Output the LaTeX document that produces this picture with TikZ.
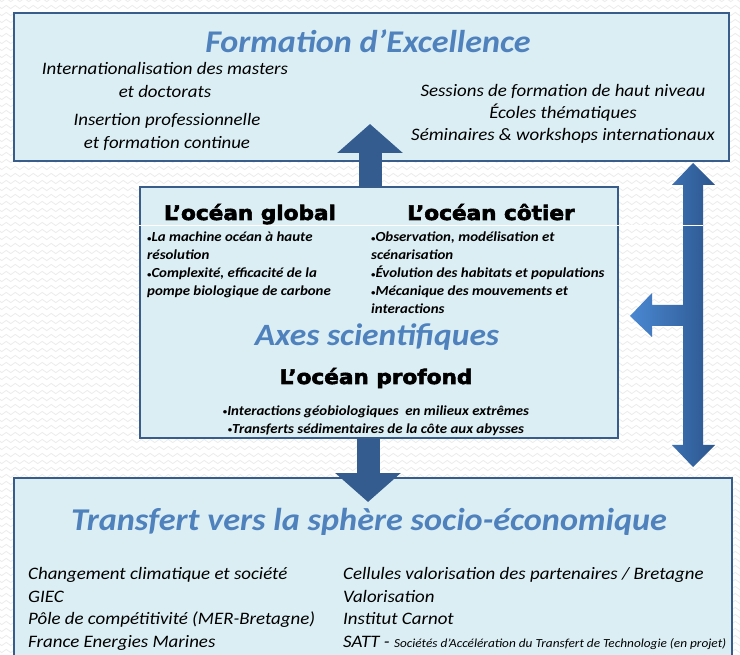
\documentclass[tikz,border=0pt]{standalone}
\usepackage{fontspec}
\setmainfont{Carlito}[FakeStretch=1.08]
\newfontfamily\blackfont{DejaVu Sans}[FakeStretch=1.08,FakeBold=3]
\usetikzlibrary{arrows.meta,positioning,calc,decorations.pathmorphing}

\definecolor{panelfill}{RGB}{219,238,244}
\definecolor{paneldraw}{RGB}{56,93,138}
\definecolor{titleblue}{RGB}{79,129,189}
\definecolor{navyarrow}{RGB}{52,92,142}
\definecolor{arrowlight}{RGB}{74,136,210}
\definecolor{arrowdark}{RGB}{44,86,142}
\definecolor{zigzaggray}{RGB}{236,236,236}

\newcommand\puce{\raisebox{0.8pt}{\fontsize{8}{8}\selectfont•}}

\tikzset{
  panel/.style={draw=paneldraw, fill=panelfill, line width=2pt, inner sep=0pt},
  bigtitle/.style={font=\fontsize{31.6}{36}\selectfont\bfseries\itshape, text=titleblue, inner sep=0pt},
  oceantitle/.style={font=\blackfont\bfseries\fontsize{20}{24}\selectfont, inner sep=0pt, anchor=base},
  itemtext/.style={font=\fontsize{17.5}{23.5}\selectfont\itshape, align=center, inner sep=0pt},
  bullettext/.style={font=\fontsize{13.8}{18}\selectfont\bfseries\itshape, align=left, anchor=north west, inner sep=0pt},
  listtext/.style={font=\fontsize{17.5}{22.7}\selectfont\itshape, align=left, anchor=north west, inner sep=0pt},
  bigarrow/.style={draw=navyarrow, line width=23pt, -{Triangle[width=64pt,length=29pt]}},
  backzigzag/.style={draw=zigzaggray, line width=0.8pt, decorate,
    decoration={zigzag, segment length=9pt, amplitude=1.6pt}},
}

\begin{document}
\begin{tikzpicture}[x=1pt,y=-1pt]
  \clip (0,0) rectangle (740,655);
  \fill[white] (0,0) rectangle (740,655);
  % faint slide background
  \foreach \row in {0,7,...,658}
    \draw[backzigzag] (-5,\row) -- (745,\row);

  % the three panels
  \node[panel, minimum width=715pt, minimum height=148pt] (forma) at (371.5,87) {};
  \node[panel, minimum width=718pt, minimum height=210pt] (transf) at (373,583) {};
  \node[panel, minimum width=478pt, minimum height=251pt] (axes) at (379,312.5) {};

  % formation
  \node[bigtitle] (formatitle) at (368,41) {Formation d’Excellence};
  \node[itemtext] (masters) at (165,80) {Internationalisation des masters\\et doctorats};
  \node[itemtext] (insertion) at (167,132) {Insertion professionnelle\\et formation continue};
  \node[itemtext, font=\fontsize{17.5}{22}\selectfont\itshape] (sessions) at (563,114)
    {Sessions de formation de haut niveau\\Écoles thématiques\\Séminaires \& workshops internationaux};

  % axes scientifiques
  \node[oceantitle] (global) at (250,220) {L’océan global};
  \node[oceantitle] (cotier) at (491,220) {L’océan côtier};
  \node[bullettext] (globalitems) at (147,232)
    {\puce La machine océan à haute\\résolution\\\puce Complexité, efficacité de la\\pompe biologique de carbone};
  \node[bullettext] (cotieritems) at (371,232)
    {\puce Observation, modélisation et\\scénarisation\\\puce Évolution des habitats et populations\\\puce Mécanique des mouvements et\\interactions};
  \node[bigtitle, font=\fontsize{31}{34}\selectfont\bfseries\itshape] (axestitle) at (377,337) {Axes scientifiques};
  \node[oceantitle] (profond) at (376,384) {L’océan profond};
  \node[bullettext, anchor=center, align=center] (profonditems) at (376,421)
    {\puce Interactions géobiologiques\ \ en milieux extrêmes\\\puce Transferts sédimentaires de la côte aux abysses};

  % transfert
  \node[bigtitle, font=\fontsize{31.7}{38}\selectfont\bfseries\itshape] (transftitle) at (369,522)
    {Transfert vers la sphère socio-économique};
  \node[listtext] (leftlist) at (28,567)
    {Changement climatique et société\\GIEC\\Pôle de compétitivité (MER-Bretagne)\\France Energies Marines};
  \node[listtext] (rightlist) at (343,567)
    {Cellules valorisation des partenaires / Bretagne\\Valorisation\\Institut Carnot\\SATT - {\fontsize{12.3}{14}\selectfont Sociétés d’Accélération du Transfert de Technologie (en projet)}};

  % arrows between panels
  \coordinate (uptip) at (370,124);
  \coordinate (downtip) at (368,502);
  \draw[bigarrow] (axes.north -| uptip) -- (uptip);
  \draw[bigarrow] (axes.south -| downtip) -- (downtip);

  % side double arrow with branch
  \coordinate (rtop) at (693,163);
  \coordinate (rbot) at (693,467);
  \coordinate (rleft) at (630,316);
  \shade[left color=arrowlight, right color=arrowdark]
    (rtop) -- ++(22,22) -- ++(-12,0) |- ($(rbot)+(22,-22)$) -- (rbot)
    -- ++(-21,-22) -- ++(11,0) |- ($(rleft)+(22,10)$) -- ++(0,11) -- (rleft)
    -- ++(22,-23) -- ++(0,12) -| ($(rtop)+(-10,22)$) -- ++(-11,0) -- cycle;

  \draw[white, line width=0.7pt] (axes.west |- 0,225) -- (703,225);
\end{tikzpicture}
\end{document}
